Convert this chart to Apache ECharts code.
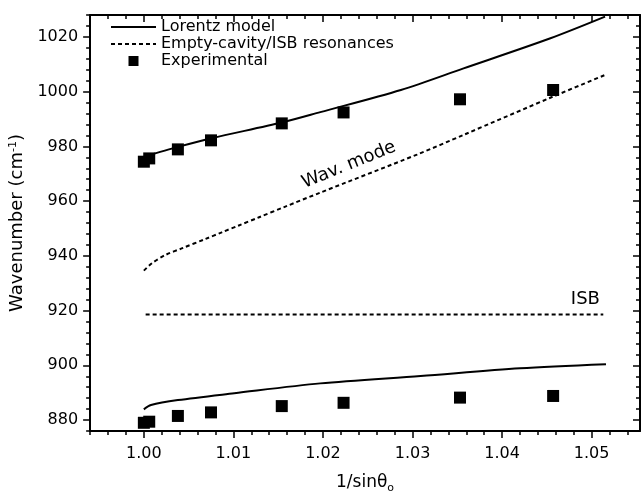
<!DOCTYPE html>
<html>
<head>
<meta charset="utf-8">
<script src="https://cdn.jsdelivr.net/npm/echarts@6/dist/echarts.min.js"></script>
<style>
  html, body { margin: 0; padding: 0; background: #fff; }
  #chart { width: 642px; height: 501px; }
</style>
</head>
<body>
<div id="chart"></div>
<script>
// axis ticks
const xMajor = [1.00, 1.01, 1.02, 1.03, 1.04, 1.05];
const yMajor = [880, 900, 920, 940, 960, 980, 1000, 1020];

// experimental points (1/sin theta_o, wavenumber)
const xExp = [1.0000, 1.0006, 1.0038, 1.0075, 1.0154, 1.0223, 1.0353, 1.0457];
const yExpUpper = [974.4, 975.6, 978.9, 982.2, 988.4, 992.4, 997.2, 1000.6];
const yExpLower = [879.0, 879.4, 881.5, 882.8, 885.1, 886.3, 888.2, 888.8];

// Lorentz model, upper branch
const xLorUp = [1.0000, 1.0039, 1.0076, 1.0155, 1.0197, 1.0287, 1.0357, 1.0454, 1.0515];
const yLorUp = [976.2, 979.9, 983.0, 988.8, 992.5, 1000.6, 1008.5, 1019.5, 1027.4];

// Lorentz model, lower branch
const xLorLow = [1.0000, 1.0008, 1.0038, 1.0101, 1.0197, 1.0309, 1.0420, 1.0516];
const yLorLow = [883.9, 885.5, 887.3, 889.8, 893.4, 896.1, 898.9, 900.4];

// empty-cavity (wav. mode) resonance
const xCav = [1.0000, 1.0009, 1.0024, 1.0043, 1.0069, 1.0087, 1.0106, 1.0128, 1.0158, 1.0197, 1.0305, 1.0357, 1.0457, 1.0515];
const yCav = [934.6, 937.3, 940.3, 942.8, 946.2, 948.6, 951.1, 954.0, 958.0, 963.1, 977.0, 984.2, 998.2, 1006.1];

// ISB resonance
const xIsb = [1.0002, 1.0513];
const yIsb = [918.6, 918.6];

const X_MIN = 0.994, X_MAX = 1.0554;
const Y_MIN = 876, Y_MAX = 1028;

function steps(from, to, step) {
  const out = [];
  const n = Math.round((to - from) / step);
  for (let i = 0; i <= n; i++) out.push(+(from + i * step).toFixed(4));
  return out;
}
const xMinor = steps(0.994, 1.054, 0.002);
const yMinor = steps(876, 1028, 4);

const pairs = (xs, ys) => xs.map((x, i) => [x, ys[i]]);

const FONT = 'DejaVu Sans';
const INK = '#000';

function xAxisCfg(position, ticks, len, withLabels, withLine) {
  return {
    type: 'value', position, min: X_MIN, max: X_MAX,
    axisLine: { show: withLine, onZero: false, lineStyle: { color: INK, width: 2 } },
    axisTick: { show: true, inside: position === 'top', length: len, customValues: ticks,
      lineStyle: { color: INK, width: 1.5 } },
    axisLabel: withLabels ? {
      show: true, customValues: ticks, margin: 15, color: INK, fontSize: 16, fontFamily: FONT,
      formatter: v => v.toFixed(2)
    } : { show: false },
    splitLine: { show: false }
  };
}
function yAxisCfg(position, ticks, len, withLabels, withLine) {
  return {
    type: 'value', position, min: Y_MIN, max: Y_MAX,
    axisLine: { show: withLine, onZero: false, lineStyle: { color: INK, width: 2 } },
    axisTick: { show: true, inside: position === 'right', length: len, customValues: ticks,
      lineStyle: { color: INK, width: 1.5 } },
    axisLabel: withLabels ? {
      show: true, customValues: ticks, margin: 12, color: INK, fontSize: 16, fontFamily: FONT,
      formatter: v => String(v)
    } : { show: false },
    splitLine: { show: false }
  };
}

const xBottom = xAxisCfg('bottom', xMajor, 7, true, true);
xBottom.name = '{t|1/sin\u03B8}{s|o}';
xBottom.nameLocation = 'middle';
xBottom.nameGap = 40;
xBottom.nameTextStyle = {
  rich: {
    t: { fontSize: 17, fontFamily: FONT, color: INK },
    s: { fontSize: 11, fontFamily: FONT, color: INK, verticalAlign: 'bottom', padding: [12, 0, 0, 0] }
  }
};

const yLeft = yAxisCfg('left', yMajor, 7, true, true);
yLeft.name = '{t|Wavenumber (cm}{s|-1}{t|)}';
yLeft.nameLocation = 'middle';
yLeft.nameRotate = 90;
yLeft.nameGap = 63;
yLeft.nameTextStyle = {
  rich: {
    t: { fontSize: 18, fontFamily: FONT, color: INK },
    s: { fontSize: 11, fontFamily: FONT, color: INK, verticalAlign: 'top', padding: [0, 0, 8, 0] }
  }
};

const chart = echarts.init(document.getElementById('chart'), null, { renderer: 'canvas' });

const lineBase = { type: 'line', symbol: 'none', showSymbol: false, smooth: 0.3, z: 3 };
const hiddenSym = { opacity: 0 };

chart.setOption({
  animation: false,
  backgroundColor: '#fff',
  textStyle: { fontFamily: FONT },
  grid: { left: 89, right: 2, top: 15, bottom: 70 },
  legend: {
    orient: 'vertical', left: 105, top: 14, itemGap: 1,
    itemWidth: 45, itemHeight: 10,
    textStyle: { fontSize: 16, fontFamily: FONT, color: INK },
    data: [
      { name: 'Lorentz model', itemStyle: hiddenSym },
      { name: 'Empty-cavity/ISB resonances', itemStyle: hiddenSym },
      { name: 'Experimental', icon: 'path://M0,0H10V10H0Z', itemStyle: { color: INK, opacity: 1 } }
    ]
  },
  xAxis: [
    xBottom,
    xAxisCfg('bottom', xMinor, 4, false, false),
    xAxisCfg('top', xMajor, 7, false, true),
    xAxisCfg('top', xMinor, 4, false, false)
  ],
  yAxis: [
    yLeft,
    yAxisCfg('left', yMinor, 4, false, false),
    yAxisCfg('right', yMajor, 7, false, true),
    yAxisCfg('right', yMinor, 4, false, false)
  ],
  series: [
    Object.assign({}, lineBase, {
      name: 'Lorentz model', data: pairs(xLorUp, yLorUp),
      lineStyle: { color: INK, width: 2 }, itemStyle: { color: INK }
    }),
    Object.assign({}, lineBase, {
      name: 'Lorentz model', data: pairs(xLorLow, yLorLow),
      lineStyle: { color: INK, width: 2 }, itemStyle: { color: INK }
    }),
    Object.assign({}, lineBase, {
      name: 'Empty-cavity/ISB resonances', data: pairs(xCav, yCav),
      lineStyle: { color: INK, width: 2, type: [4, 3] }, itemStyle: { color: INK },
      markPoint: {
        symbol: 'circle', symbolSize: 1, itemStyle: { color: 'rgba(0,0,0,0)' },
        data: [{
          coord: [1.0229, 973.2],
          label: { show: true, position: 'inside', formatter: 'Wav. mode', rotate: 22,
            color: INK, fontSize: 18, fontFamily: FONT }
        }]
      }
    }),
    Object.assign({}, lineBase, {
      name: 'Empty-cavity/ISB resonances', data: pairs(xIsb, yIsb), smooth: false,
      lineStyle: { color: INK, width: 2, type: [4, 3] }, itemStyle: { color: INK },
      markPoint: {
        symbol: 'circle', symbolSize: 1, itemStyle: { color: 'rgba(0,0,0,0)' },
        data: [{
          coord: [1.0493, 924.2],
          label: { show: true, position: 'inside', formatter: 'ISB',
            color: INK, fontSize: 18, fontFamily: FONT }
        }]
      }
    }),
    {
      name: 'Experimental', type: 'scatter', symbol: 'rect', symbolSize: 12, z: 4,
      itemStyle: { color: INK, opacity: 1 }, data: pairs(xExp, yExpUpper)
    },
    {
      name: 'Experimental', type: 'scatter', symbol: 'rect', symbolSize: 12, z: 4,
      itemStyle: { color: INK, opacity: 1 }, data: pairs(xExp, yExpLower)
    }
  ]
});
</script>
</body>
</html>
